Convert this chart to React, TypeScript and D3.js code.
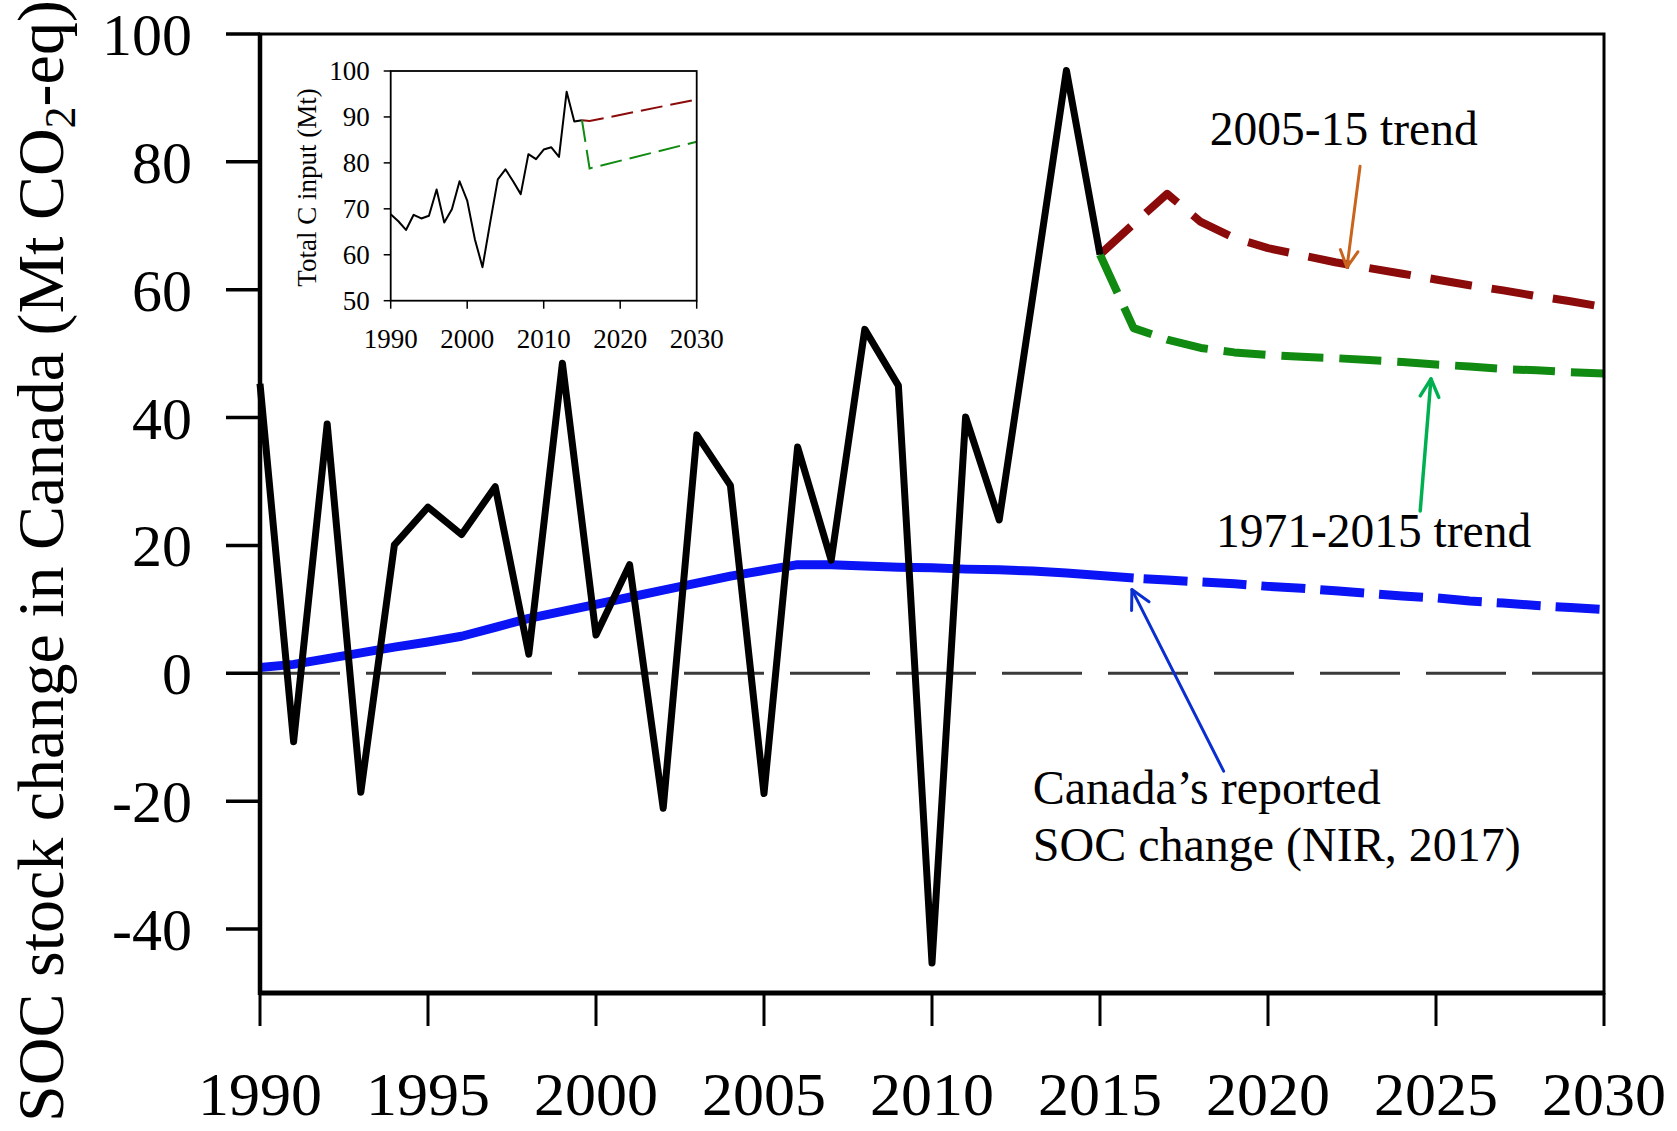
import React from 'react';
import * as d3 from 'd3';

// ---------- Data ----------
const socYears = [1990, 1991, 1992, 1993, 1994, 1995, 1996, 1997, 1998, 1999, 2000, 2001, 2002, 2003, 2004, 2005, 2006, 2007, 2008, 2009, 2010, 2011, 2012, 2013, 2014, 2015];
const socValues = [45.3, -10.7, 39.0, -18.6, 20.1, 26.0, 21.7, 29.2, 3.0, 48.5, 6.0, 17.0, -21.1, 37.3, 29.4, -18.8, 35.4, 17.7, 53.8, 45.0, -45.3, 40.1, 24.0, 59.0, 94.3, 65.5];

const trendYears = [2015, 2016, 2017, 2018, 2019, 2020, 2021, 2022, 2023, 2024, 2025, 2026, 2027, 2028, 2029, 2030];
const trend0515 = [65.5, 70.3, 75.0, 70.6, 68.1, 66.5, 65.4, 64.3, 63.4, 62.5, 61.6, 60.7, 59.9, 59.0, 58.2, 57.3];
const trend7115 = [65.5, 54.0, 52.2, 50.9, 50.2, 49.8, 49.5, 49.3, 49.0, 48.7, 48.3, 48.0, 47.6, 47.4, 47.1, 46.9];

const nirYears = [1990, 1991, 1992, 1993, 1994, 1995, 1996, 1997, 1998, 1999, 2000, 2001, 2002, 2003, 2004, 2005, 2006, 2007, 2008, 2009, 2010, 2011, 2012, 2013, 2014, 2015, 2016];
const nirValues = [0.9, 1.4, 2.3, 3.2, 4.1, 4.9, 5.8, 7.2, 8.6, 9.7, 10.8, 11.9, 13.0, 14.1, 15.2, 16.1, 17.0, 17.0, 16.8, 16.6, 16.5, 16.3, 16.2, 16.0, 15.7, 15.3, 14.9];
const nirProjYears = [2016, 2017, 2018, 2019, 2020, 2021, 2022, 2023, 2024, 2025, 2026, 2027, 2028, 2029, 2030];
const nirProjValues = [14.9, 14.6, 14.3, 14.0, 13.6, 13.3, 12.9, 12.5, 12.1, 11.8, 11.3, 11.0, 10.6, 10.3, 10.0];

const xTicks = [1990, 1995, 2000, 2005, 2010, 2015, 2020, 2025, 2030];
const yTicks = [100, 80, 60, 40, 20, 0, -20, -40];

// Inset: total C input
const inputYears = [1990, 1991, 1992, 1993, 1994, 1995, 1996, 1997, 1998, 1999, 2000, 2001, 2002, 2003, 2004, 2005, 2006, 2007, 2008, 2009, 2010, 2011, 2012, 2013, 2014, 2015];
const inputValues = [68.8, 67.3, 65.4, 68.7, 67.9, 68.5, 74.2, 67.0, 69.9, 76.0, 71.8, 63.4, 57.3, 67.0, 76.4, 78.6, 76.0, 73.2, 81.9, 80.8, 82.9, 83.4, 81.3, 95.5, 89.0, 89.3];
const inputTrendYears = [2015, 2016, 2030];
const inputTrend0515 = [89.3, 89.1, 93.8];
const inputTrend7115 = [89.3, 78.8, 84.6];
const insetXTicks = [1990, 2000, 2010, 2020, 2030];
const insetYTicks = [50, 60, 70, 80, 90, 100];

const yTitle = 'SOC stock change in Canada (Mt CO';
const insetYTitle = 'Total C input (Mt)';
const label0515 = '2005-15 trend';
const label7115 = '1971-2015 trend';
const labelNir1 = 'Canada\u2019s reported';
const labelNir2 = 'SOC change (NIR, 2017)';

const FONT = '"Liberation Serif", "Times New Roman", Times, serif';

type P = [number, number];
const toPts = (xs: number[], ys: number[]): P[] => xs.map((x, i) => [x, ys[i]]);

function Arrow({ x1, y1, x2, y2, color, width, head }: { x1: number; y1: number; x2: number; y2: number; color: string; width: number; head: number }) {
  const a = Math.atan2(y2 - y1, x2 - x1);
  const s = Math.PI / 6.5;
  const ax1 = x2 - head * Math.cos(a - s);
  const ay1 = y2 - head * Math.sin(a - s);
  const ax2 = x2 - head * Math.cos(a + s);
  const ay2 = y2 - head * Math.sin(a + s);
  return (
    <g stroke={color} strokeWidth={width} strokeLinecap="round" fill="none">
      <line x1={x1} y1={y1} x2={x2} y2={y2} />
      <polyline points={`${ax1},${ay1} ${x2},${y2} ${ax2},${ay2}`} strokeLinejoin="round" />
    </g>
  );
}

export default function App() {
  const W = 1677, H = 1131;
  const left = 260, right = 1604, top = 34, bottom = 993;
  const x = d3.scaleLinear().domain([1990, 2030]).range([left, right]);
  const y = d3.scaleLinear().domain([-50, 100]).range([bottom, top]);
  const line = d3.line<P>().x(d => x(d[0])).y(d => y(d[1]));

  // inset
  const iL = 390.7, iR = 696.7, iT = 71, iB = 300.7;
  const ix = d3.scaleLinear().domain([1990, 2030]).range([iL, iR]);
  const iy = d3.scaleLinear().domain([50, 100]).range([iB, iT]);
  const iline = d3.line<P>().x(d => ix(d[0])).y(d => iy(d[1]));

  return (
    <svg width={W} height={H} style={{ position: 'absolute', left: 0, top: 0, display: 'block', background: '#fff' }} fontFamily={FONT}>
      <rect x={0} y={0} width={W} height={H} fill="#fff" />

      {/* zero line */}
      <line x1={x(1990)} x2={x(2030)} y1={y(0)} y2={y(0)} stroke="#3a3a3a" strokeWidth={3} strokeDasharray="80,26" />

      {/* NIR reported (blue) */}
      <path d={line(toPts(nirYears, nirValues)) || ''} fill="none" stroke="#0a14f5" strokeWidth={9} strokeLinejoin="round" />
      <path d={line(toPts(nirProjYears, nirProjValues)) || ''} fill="none" stroke="#0a14f5" strokeWidth={9} strokeDasharray="44,15" strokeDashoffset={-10} />

      {/* trends */}
      <path d={line(toPts(trendYears, trend0515)) || ''} fill="none" stroke="#8b0a0a" strokeWidth={8} strokeDasharray="42,20" strokeLinejoin="round" />
      <path d={line(toPts(trendYears, trend7115)) || ''} fill="none" stroke="#108a10" strokeWidth={8} strokeDasharray="42,16" strokeLinejoin="round" />

      {/* SOC change (black) */}
      <path d={line(toPts(socYears, socValues)) || ''} fill="none" stroke="#000" strokeWidth={7} strokeLinejoin="round" />

      {/* frame */}
      <rect x={left} y={top} width={right - left} height={bottom - top} fill="none" stroke="#000" strokeWidth={3} />
      <line x1={left} x2={left} y1={top} y2={bottom + 2} stroke="#000" strokeWidth={4.5} />
      <line x1={left} x2={right} y1={bottom} y2={bottom} stroke="#000" strokeWidth={5} />

      {/* y ticks */}
      {yTicks.map(t => (
        <g key={'y' + t}>
          <line x1={left - 34} x2={left} y1={y(t)} y2={y(t)} stroke="#000" strokeWidth={3.5} />
          <text x={192} y={y(t)} dy="0.35em" textAnchor="end" fontSize={60}>{String(t)}</text>
        </g>
      ))}
      {/* x ticks */}
      {xTicks.map(t => (
        <g key={'x' + t}>
          <line x1={x(t)} x2={x(t)} y1={bottom} y2={bottom + 33} stroke="#000" strokeWidth={3} />
          <text x={x(t)} y={1115} textAnchor="middle" fontSize={62}>{String(t)}</text>
        </g>
      ))}

      {/* y title */}
      <text transform="translate(63,561) rotate(-90)" textAnchor="middle" fontSize={66}>
        {yTitle}<tspan dy={12} fontSize={44}>2</tspan><tspan dy={-12}>-eq)</tspan>
      </text>

      {/* annotations */}
      <text x={x(2018.27)} y={y(82.6)} fontSize={47.5}>{label0515}</text>
      <Arrow x1={x(2022.74)} y1={y(79.3)} x2={x(2022.35)} y2={y(63.5)} color="#c8641e" width={3} head={19} />

      <text x={x(2018.45)} y={y(19.8)} fontSize={47.5}>{label7115}</text>
      <Arrow x1={x(2024.53)} y1={y(25.4)} x2={x(2024.85)} y2={y(46.05)} color="#00b050" width={3.5} head={20} />

      <text x={x(2013.0)} y={y(-20.4)} fontSize={48}>{labelNir1}</text>
      <text x={x(2013.0)} y={y(-29.4)} fontSize={48}>{labelNir2}</text>
      <Arrow x1={x(2018.68)} y1={y(-15.3)} x2={x(2015.95)} y2={y(13.1)} color="#0a2fd0" width={3} head={21} />

      {/* ---------- inset ---------- */}
      <g>
        <path d={iline(toPts(inputYears, inputValues)) || ''} fill="none" stroke="#000" strokeWidth={2} strokeLinejoin="round" />
        <path d={iline(toPts(inputTrendYears, inputTrend0515)) || ''} fill="none" stroke="#8b0a0a" strokeWidth={2} strokeDasharray="22,8" />
        <path d={iline(toPts(inputTrendYears, inputTrend7115)) || ''} fill="none" stroke="#108a10" strokeWidth={2} strokeDasharray="22,8" />
        <rect x={iL} y={iT} width={iR - iL} height={iB - iT} fill="none" stroke="#000" strokeWidth={1.8} />
        {insetYTicks.map(t => (
          <g key={'iy' + t}>
            <line x1={iL - 7} x2={iL} y1={iy(t)} y2={iy(t)} stroke="#000" strokeWidth={1.5} />
            <text x={iL - 21} y={iy(t)} dy="0.35em" textAnchor="end" fontSize={27}>{String(t)}</text>
          </g>
        ))}
        {insetXTicks.map(t => (
          <g key={'ix' + t}>
            <line x1={ix(t)} x2={ix(t)} y1={iB} y2={iB + 8} stroke="#000" strokeWidth={1.5} />
            <text x={ix(t)} y={347.5} textAnchor="middle" fontSize={27}>{String(t)}</text>
          </g>
        ))}
        <text transform="translate(316,187.5) rotate(-90)" textAnchor="middle" fontSize={27}>{insetYTitle}</text>
      </g>
    </svg>
  );
}
